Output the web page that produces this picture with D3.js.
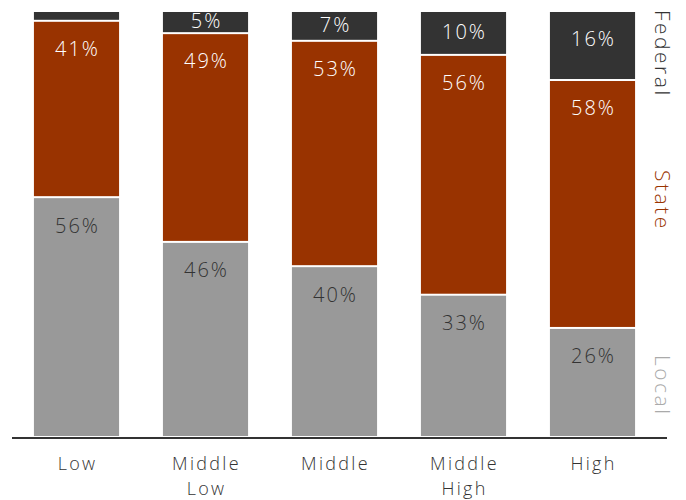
<!DOCTYPE html>
<html>
<head>
<meta charset="utf-8">
<script src="https://cdn.jsdelivr.net/npm/d3@7"></script>
<style>
  body { margin: 0; background: #fff; }
  svg text { font-family: "Open Sans", "Lato", sans-serif; }
</style>
</head>
<body>
<svg id="chart" width="686" height="500"></svg>
<script>
document.addEventListener("DOMContentLoaded", function() {

    // Data
    const categories = ["Low", "Middle Low", "Middle", "Middle High", "High"];
    const localValues = [56.3, 45.8, 40.1, 33.4, 25.6];
    const stateValues = [41.4, 49.0, 52.9, 56.3, 58.2];
    const federalValues = [2.3, 5.2, 7.0, 10.3, 16.2];
    const seriesNames = ["Local", "State", "Federal"];
    const seriesColors = ["#999999", "#993300", "#333333"];
    const labelColors = ["#333333", "#ffffff", "#ffffff"];

    // Display settings
    const plotTop = 11, plotBottom = 437;

    const rows = categories.map((c, i) => ({
        cat: c, Local: localValues[i], State: stateValues[i], Federal: federalValues[i]
    }));

    const x = d3.scaleBand().domain(categories).range([12, 657])
        .paddingInner(0.34).paddingOuter(0.17);
    const y = d3.scaleLinear().domain([0, 100]).range([plotBottom, plotTop]);

    const stacked = d3.stack().keys(seriesNames)(rows);

    const svg = d3.select("#chart");

    ////////// Bars //////////
    const layers = svg.append("g").selectAll("g")
        .data(stacked)
        .join("g")
        .attr("fill", (d, i) => seriesColors[i]);

    layers.selectAll("rect")
        .data(d => d)
        .join("rect")
        .attr("x", d => x(d.data.cat))
        .attr("width", x.bandwidth())
        .attr("y", d => y(d[1]) + 1)
        .attr("height", d => Math.max(0, y(d[0]) - y(d[1]) - 2));

    ////////// Value labels //////////
    stacked.forEach((layer, li) => {
        svg.append("g").selectAll("text")
            .data(layer.filter(d => d[1] - d[0] >= 4))
            .join("text")
            .attr("x", d => x(d.data.cat) + x.bandwidth() / 2 + 1)
            .attr("y", d => {
                const top = y(d[1]), bot = y(d[0]);
                return Math.min(top + 30, (top + bot) / 2 + 1);
            })
            .attr("text-anchor", "middle")
            .attr("dominant-baseline", "middle")
            .attr("fill", labelColors[li])
            .style("font-size", "20px")
            .style("font-weight", 300)
            .style("letter-spacing", "2px")
            .text(d => Math.round(d[1] - d[0]) + "%");
    });

    ////////// Axis //////////
    svg.append("line")
        .attr("x1", 12).attr("x2", 667)
        .attr("y1", plotBottom + 1).attr("y2", plotBottom + 1)
        .attr("stroke", "#333").attr("stroke-width", 2);

    const xAxis = svg.append("g");
    categories.forEach(c => {
        const words = c.split(" ");
        words.forEach((w, k) => {
            xAxis.append("text")
                .attr("x", x(c) + x.bandwidth() / 2 + 1)
                .attr("y", 470 + k * 25)
                .attr("text-anchor", "middle")
                .attr("fill", "#333")
                .style("font-size", "18px")
                .style("font-weight", 300)
                .style("letter-spacing", "2.3px")
                .text(w);
        });
    });

    ////////// Legend (rotated) //////////
    const legendY = [10, 170, 355];
    seriesNames.slice().reverse().forEach((name, k) => {
        const idx = seriesNames.indexOf(name);
        svg.append("text")
            .attr("transform", `translate(655,${legendY[k]}) rotate(90)`)
            .attr("fill", idx === 0 ? "#aaaaaa" : seriesColors[idx])
            .style("font-size", "21px")
            .style("font-weight", 300)
            .style("letter-spacing", "2.5px")
            .text(name);
    });

});
</script>
</body>
</html>
